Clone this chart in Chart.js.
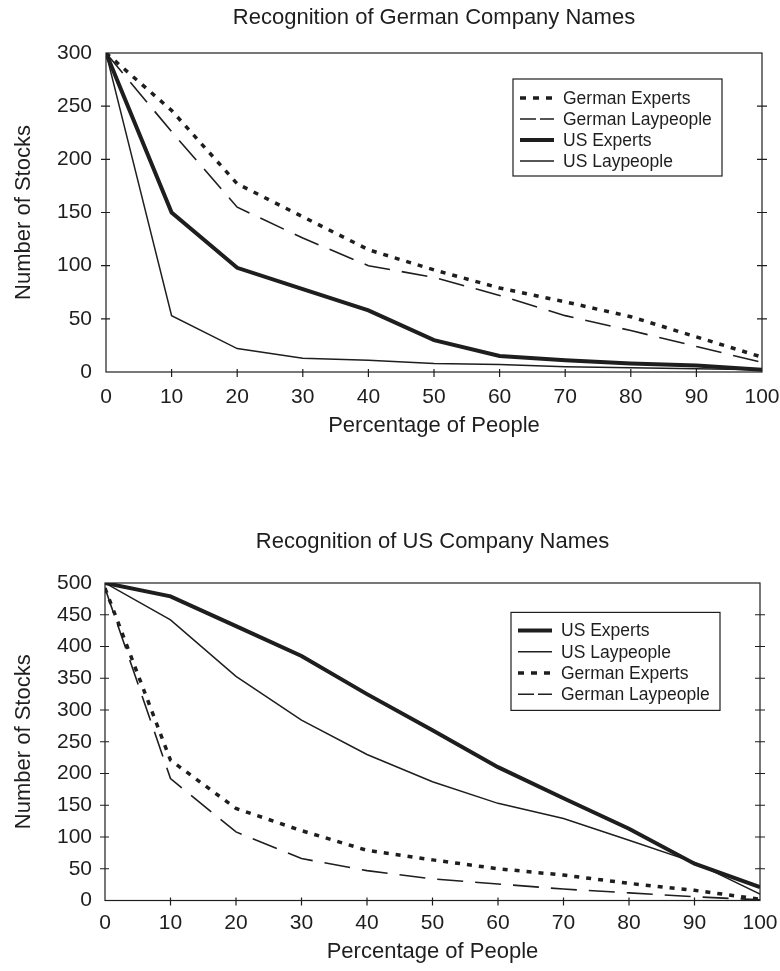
<!DOCTYPE html>
<html>
<head>
<meta charset="utf-8">
<script src="https://cdn.jsdelivr.net/npm/chart.js@4.4.1/dist/chart.umd.min.js"></script>
<style>
  html, body { margin: 0; padding: 0; background: #fff; }
  .panel { position: absolute; left: 0; width: 780px; }
  #panel-german { top: 0; height: 450px; }
  #panel-us { top: 500px; height: 471px; }
</style>
</head>
<body>
<div class="panel" id="panel-german"><canvas id="german--canva" width="780" height="450"></canvas></div>
<div class="panel" id="panel-us"><canvas id="us--canva" width="780" height="471"></canvas></div>
<script>
// Datos
const porcentajes = [0, 10, 20, 30, 40, 50, 60, 70, 80, 90, 100];

// Reconocimiento de nombres de empresas alemanas
const alemanExpertosDE = [300, 246, 177, 146, 115, 96, 79, 66, 52, 33, 14];
const alemanLegosDE = [300, 226, 155, 126, 100, 89, 72, 53, 39, 24, 9];
const usExpertosDE = [300, 150, 98, 78, 58, 30, 15, 11, 8, 6, 2];
const usLegosDE = [300, 53, 22, 13, 11, 8, 7, 5, 4, 3, 2];

// Reconocimiento de nombres de empresas de EE.UU.
const usExpertosUS = [500, 479, 432, 385, 325, 268, 210, 161, 113, 58, 21];
const usLegosUS = [500, 442, 353, 284, 230, 187, 153, 129, 95, 60, 10];
const alemanExpertosUS = [492, 221, 145, 110, 79, 64, 50, 40, 27, 16, 2];
const alemanLegosUS = [492, 192, 108, 66, 47, 34, 26, 18, 12, 6, 1];

const COLOR = "#1e1e1e";
const FUENTE = '"Liberation Sans", Arial, sans-serif';
Chart.defaults.color = COLOR;
Chart.defaults.font.family = FUENTE;

// Estilo de cada serie
const estilos = {
  "German Experts": { borderWidth: 3.5, borderDash: [5, 7], legendDash: [6, 7] },
  "German Laypeople": { borderWidth: 1.6, borderDash: [26, 12], legendDash: [16, 4] },
  "US Experts": { borderWidth: 4, borderDash: [] },
  "US Laypeople": { borderWidth: 1.5, borderDash: [] },
};

const crearSerie = (etiqueta, valores) => ({
  label: etiqueta,
  data: porcentajes.map((x, i) => ({ x, y: valores[i] })),
  borderColor: COLOR,
  borderWidth: estilos[etiqueta].borderWidth,
  borderDash: estilos[etiqueta].borderDash,
  legendDash: estilos[etiqueta].legendDash,
  borderCapStyle: "butt",
  pointRadius: 0,
  fill: false,
  tension: 0,
});

// Marco del área del gráfico con sus marcas
const marcoPlugin = {
  id: "marco",
  afterDraw(chart) {
    const { ctx, chartArea: a, scales } = chart;
    ctx.save();
    ctx.strokeStyle = COLOR;
    ctx.lineWidth = 1.2;
    ctx.setLineDash([]);
    ctx.strokeRect(a.left, a.top, a.width, a.height);
    ctx.beginPath();
    scales.y.ticks.forEach((t) => {
      if (t.value <= scales.y.min || t.value >= scales.y.max) return;
      const py = scales.y.getPixelForValue(t.value);
      ctx.moveTo(a.left - 5, py);
      ctx.lineTo(a.left + 4, py);
      ctx.moveTo(a.right - 5, py);
      ctx.lineTo(a.right + 5, py);
    });
    scales.x.ticks.forEach((t) => {
      if (t.value <= scales.x.min || t.value >= scales.x.max) return;
      const px = scales.x.getPixelForValue(t.value);
      ctx.moveTo(px, a.bottom - 3);
      ctx.lineTo(px, a.bottom + 5);
    });
    ctx.stroke();
    ctx.restore();
  },
};

// Leyenda dentro de una caja
const leyendaPlugin = {
  id: "leyendaCaja",
  afterDraw(chart, args, opts) {
    const { ctx, chartArea: a } = chart;
    const x0 = a.right - opts.desdeDerecha;
    const y0 = a.top + opts.desdeArriba;
    ctx.save();
    ctx.fillStyle = "#fff";
    ctx.fillRect(x0, y0, opts.ancho, opts.alto);
    ctx.strokeStyle = COLOR;
    ctx.lineWidth = 1.2;
    ctx.setLineDash([]);
    ctx.strokeRect(x0, y0, opts.ancho, opts.alto);
    chart.data.datasets.forEach((ds, i) => {
      const y = y0 + opts.primeraFila + i * opts.paso;
      ctx.beginPath();
      ctx.lineWidth = ds.borderWidth;
      ctx.lineCap = "butt";
      ctx.setLineDash(ds.legendDash || ds.borderDash || []);
      ctx.moveTo(x0 + 7, y);
      ctx.lineTo(x0 + 41, y);
      ctx.stroke();
      ctx.setLineDash([]);
      ctx.fillStyle = COLOR;
      ctx.font = "17.5px " + FUENTE;
      ctx.textBaseline = "middle";
      ctx.textAlign = "left";
      ctx.fillText(ds.label, x0 + 50, y + 1);
    });
    ctx.restore();
  },
};

// Función para crear cada gráfico
const crearGrafico = (selector, cfg) => {
  const ctx = document.querySelector(selector).getContext("2d");
  return new Chart(ctx, {
    type: "line",
    data: { datasets: cfg.series },
    options: {
      responsive: false,
      animation: false,
      devicePixelRatio: 1,
      layout: { padding: { left: 0, right: cfg.derecha, top: 0, bottom: 0 } },
      scales: {
        x: {
          type: "linear",
          min: 0,
          max: 100,
          ticks: { stepSize: 10, padding: cfg.padTicksX, font: { size: 21 }, autoSkip: false, maxRotation: 0 },
          grid: { display: false, drawTicks: false },
          border: { display: false },
          title: {
            display: true,
            text: "Percentage of People",
            font: { size: 22 },
            padding: { top: 0, bottom: cfg.padTituloX },
          },
          afterFit: (s) => {
            s.height = cfg.altoX;
            s.paddingLeft = 0;
            s.paddingRight = 0;
          },
        },
        y: {
          min: 0,
          max: cfg.maxY,
          ticks: { stepSize: 50, padding: cfg.padTicksY, font: { size: 21 } },
          grid: { display: false, drawTicks: false },
          border: { display: false },
          title: {
            display: true,
            text: "Number of Stocks",
            font: { size: 22 },
            padding: { top: 10.3, bottom: 0 },
          },
          afterFit: (s) => {
            s.width = cfg.anchoY;
            s.paddingTop = 0;
            s.paddingBottom = 0;
          },
        },
      },
      plugins: {
        legend: { display: false },
        tooltip: { enabled: false },
        title: {
          display: true,
          text: cfg.titulo,
          fullSize: false,
          font: { size: 22, weight: "normal" },
          color: COLOR,
          padding: cfg.padTitulo,
        },
        leyendaCaja: cfg.leyenda,
      },
    },
    plugins: [marcoPlugin, leyendaPlugin],
  });
};

// Gráfico de empresas alemanas
crearGrafico("#german--canva", {
  titulo: "Recognition of German Company Names",
  series: [
    crearSerie("German Experts", alemanExpertosDE),
    crearSerie("German Laypeople", alemanLegosDE),
    crearSerie("US Experts", usExpertosDE),
    crearSerie("US Laypeople", usLegosDE),
  ],
  maxY: 300,
  derecha: 18,
  anchoY: 106,
  altoX: 78,
  padTicksX: 12.4,
  padTituloX: 10.8,
  padTicksY: 14,
  padTitulo: { top: 4.8, bottom: 21.8 },
  leyenda: { desdeDerecha: 249, desdeArriba: 26, ancho: 209, alto: 97, primeraFila: 19, paso: 21 },
});

// Gráfico de empresas de EE.UU.
crearGrafico("#us--canva", {
  titulo: "Recognition of US Company Names",
  series: [
    crearSerie("US Experts", usExpertosUS),
    crearSerie("US Laypeople", usLegosUS),
    crearSerie("German Experts", alemanExpertosUS),
    crearSerie("German Laypeople", alemanLegosUS),
  ],
  maxY: 500,
  derecha: 20,
  anchoY: 105,
  altoX: 70.5,
  padTicksX: 10.2,
  padTituloX: 5.8,
  padTicksY: 13,
  padTitulo: { top: 28.8, bottom: 27.8 },
  leyenda: { desdeDerecha: 249, desdeArriba: 29.4, ancho: 209, alto: 98, primeraFila: 18, paso: 21.3 },
});
</script>
</body>
</html>
